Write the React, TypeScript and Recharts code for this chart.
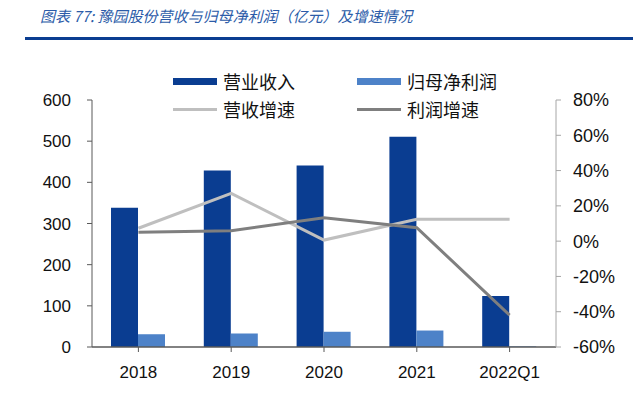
import React from 'react';
import { ComposedChart, Bar, Line, XAxis, YAxis } from 'recharts';

const years = ['2018', '2019', '2020', '2021', '2022Q1'];
const revenue = [338, 429, 441, 511, 124];
const netProfit = [31, 33, 37, 40, 1.5];
const revenueGrowth = [7.3, 27.1, 0.6, 12.4, 12.4];
const profitGrowth = [5.0, 5.9, 13.3, 7.6, -41.9];
const leftTicks = [0, 100, 200, 300, 400, 500, 600];
const rightTicks = [-60, -40, -20, 0, 20, 40, 60, 80];

const seriesNames = ['营业收入', '归母净利润', '营收增速', '利润增速'];
const colors = ['#0A3D91', '#4D82C8', '#BFBFBF', '#7F7F7F'];

const data = years.map((y, i) => ({
  name: y,
  rev: revenue[i],
  np: netProfit[i],
  revG: revenueGrowth[i],
  npG: profitGrowth[i],
}));

const cjk = '"Noto Sans CJK SC", sans-serif';

function LegendItem({ idx, left, top }: { idx: number; left: number; top: number }) {
  const isBar = idx < 2;
  return (
    <div style={{ position: 'absolute', left, top, height: 22, display: 'flex', alignItems: 'center' }}>
      <div style={{ width: 44, height: isBar ? 7 : 3, background: colors[idx], marginRight: 6 }} />
      <span style={{ fontFamily: cjk, fontSize: 18, color: '#111', lineHeight: '22px' }}>{seriesNames[idx]}</span>
    </div>
  );
}

export default function App() {
  return (
    <div style={{ position: 'absolute', left: 0, top: 0, width: 640, height: 396, background: '#fff', overflow: 'hidden' }}>
      <div style={{ position: 'absolute', left: 40, top: 5, fontFamily: cjk, fontSize: 15, fontStyle: 'italic', color: '#2B5BA8', whiteSpace: 'nowrap' }}>
        图表 77: 豫园股份营收与归母净利润（亿元）及增速情况
      </div>
      <div style={{ position: 'absolute', left: 25, top: 37, width: 608, height: 3, background: '#0B3D91' }} />

      <LegendItem idx={0} left={173} top={70} />
      <LegendItem idx={1} left={357} top={70} />
      <LegendItem idx={2} left={173} top={98} />
      <LegendItem idx={3} left={357} top={98} />

      <div style={{ position: 'absolute', left: 0, top: 0 }}>
        <ComposedChart width={640} height={396} data={data} margin={{ top: 100, right: 0, left: 0, bottom: 0 }} barGap={0}>
          <XAxis
            dataKey="name"
            height={49}
            axisLine={{ stroke: '#595959', strokeWidth: 1.5 }}
            tickLine={{ stroke: '#595959' }}
            tickSize={5}
            tickMargin={14}
            tick={{ fill: '#111', fontSize: 17, fontFamily: '"Liberation Sans", Arial, sans-serif' }}
          />
          <YAxis
            yAxisId="left"
            orientation="left"
            width={92}
            domain={[0, 600]}
            ticks={leftTicks}
            interval={0}
            axisLine={{ stroke: '#595959' }}
            tickLine={{ stroke: '#595959' }}
            tickSize={5}
            tickMargin={16}
            tick={{ fill: '#111', fontSize: 17, fontFamily: '"Liberation Sans", Arial, sans-serif' }}
          />
          <YAxis
            yAxisId="right"
            orientation="right"
            width={84}
            domain={[-60, 80]}
            ticks={rightTicks}
            interval={0}
            tickFormatter={(v: number) => `${v}%`}
            axisLine={{ stroke: '#A6A6A6' }}
            tickLine={{ stroke: '#A6A6A6' }}
            tickSize={5}
            tickMargin={12}
            tick={{ fill: '#111', fontSize: 18, fontFamily: '"Liberation Sans", Arial, sans-serif', textAnchor: 'start' }}
          />
          <Bar yAxisId="left" dataKey="rev" name={seriesNames[0]} fill={colors[0]} barSize={27} isAnimationActive={false} />
          <Bar yAxisId="left" dataKey="np" name={seriesNames[1]} fill={colors[1]} barSize={27} isAnimationActive={false} />
          <Line yAxisId="right" dataKey="revG" name={seriesNames[2]} stroke={colors[2]} strokeWidth={3} dot={false} type="linear" isAnimationActive={false} />
          <Line yAxisId="right" dataKey="npG" name={seriesNames[3]} stroke={colors[3]} strokeWidth={3} dot={false} type="linear" isAnimationActive={false} />
        </ComposedChart>
      </div>
    </div>
  );
}
